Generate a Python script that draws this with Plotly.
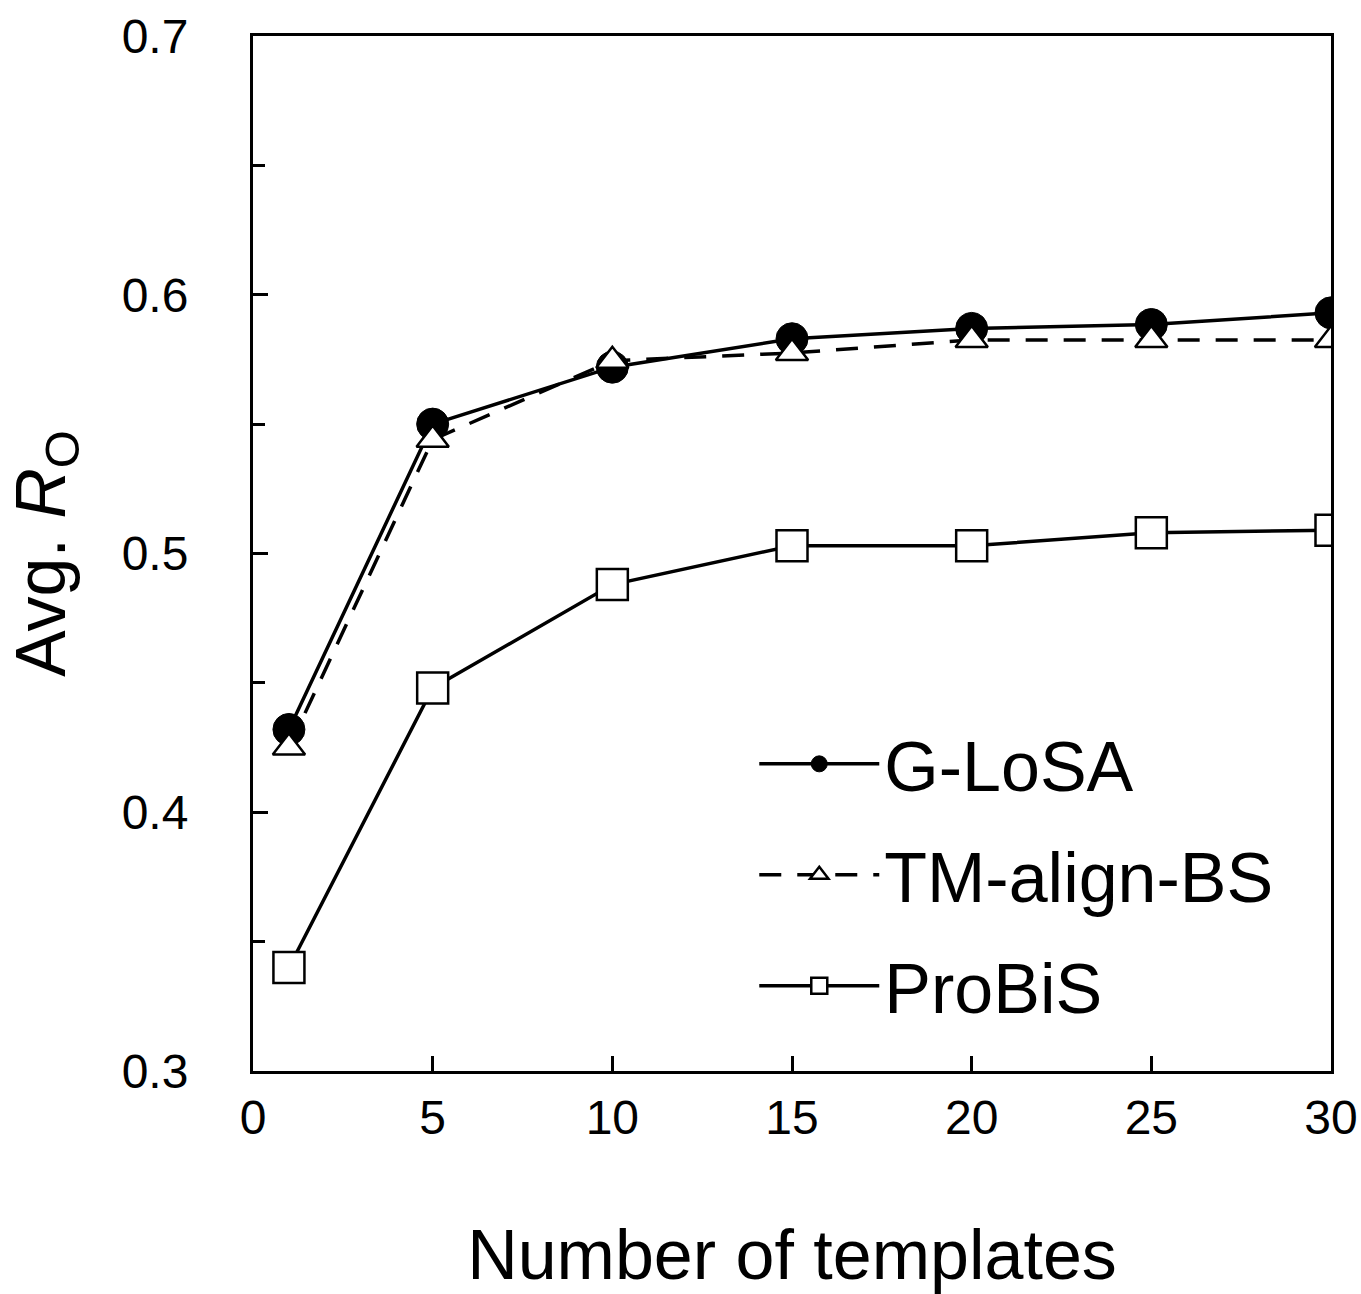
import plotly.graph_objects as go

templates = [1, 5, 10, 15, 20, 25, 30]
glosa = [0.432, 0.550, 0.572, 0.583, 0.587, 0.5885, 0.593]
tmalign = [0.425, 0.544, 0.5745, 0.5775, 0.5825, 0.5825, 0.5825]
probis = [0.340, 0.448, 0.488, 0.503, 0.503, 0.508, 0.509]

x_ticks = [0, 5, 10, 15, 20, 25, 30]
y_ticks = [0.3, 0.4, 0.5, 0.6, 0.7]
y_ticktext = ["0.3", "0.4", "0.5", "0.6", "0.7"]

FONT = "Liberation Sans, Arial, sans-serif"

fig = go.Figure()
fig.add_trace(go.Scatter(
    x=templates, y=glosa, name="G-LoSA", mode="lines+markers",
    line=dict(color="black", width=3.5),
    marker=dict(symbol="circle", size=32, color="black", line=dict(color="black", width=1)),
    legendgroup="a",
))
fig.add_trace(go.Scatter(
    x=templates, y=tmalign, name="TM-align-BS", mode="lines+markers",
    line=dict(color="black", width=3.5, dash="22px,16px"),
    marker=dict(symbol="triangle-up", size=28, color="white", line=dict(color="black", width=2.5)),
    legendgroup="b",
))
fig.add_trace(go.Scatter(
    x=templates, y=probis, name="ProBiS", mode="lines+markers",
    line=dict(color="black", width=3.5),
    marker=dict(symbol="square", size=31, color="white", line=dict(color="black", width=2.5)),
    legendgroup="c",
))

fig.update_layout(
    width=1361, height=1294,
    margin=dict(l=253, r=30, t=36, b=223, autoexpand=False),
    paper_bgcolor="white", plot_bgcolor="white",
    font=dict(family=FONT, color="black"),
    showlegend=True,
    legend=dict(
        x=0.465, y=0.347, xanchor="left", yanchor="top",
        font=dict(size=70, family=FONT, color="black"),
        bgcolor="rgba(0,0,0,0)", borderwidth=0,
        traceorder="grouped", tracegroupgap=17,
        itemwidth=120, itemsizing="trace",
    ),
    xaxis=dict(
        range=[0, 30], tickvals=x_ticks, ticktext=[str(v) for v in x_ticks],
        ticks="inside", ticklen=15, tickwidth=2.5, tickcolor="black",
        showline=True, linecolor="black", linewidth=3, mirror=True,
        showgrid=False, zeroline=False, automargin=False,
        tickfont=dict(size=48, family=FONT, color="black"),
        ticklabelstandoff=2,
        title=dict(text="Number of templates", font=dict(size=70, family=FONT, color="black"), standoff=88),
    ),
    yaxis=dict(
        range=[0.3, 0.7], tickvals=y_ticks, ticktext=y_ticktext,
        ticks="inside", ticklen=15, tickwidth=2.5, tickcolor="black",
        minor=dict(ticks="inside", ticklen=12, tickwidth=2.5, tickcolor="black", dtick=0.05, tick0=0.3),
        showline=True, linecolor="black", linewidth=3, mirror=True,
        showgrid=False, zeroline=False, automargin=False,
        tickfont=dict(size=48, family=FONT, color="black"),
        ticklabelstandoff=52,
        title=dict(text="Avg. <i>R</i><sub>O</sub>", font=dict(size=70, family=FONT, color="black"), standoff=34),
    ),
)

fig.write_html("out.html")
